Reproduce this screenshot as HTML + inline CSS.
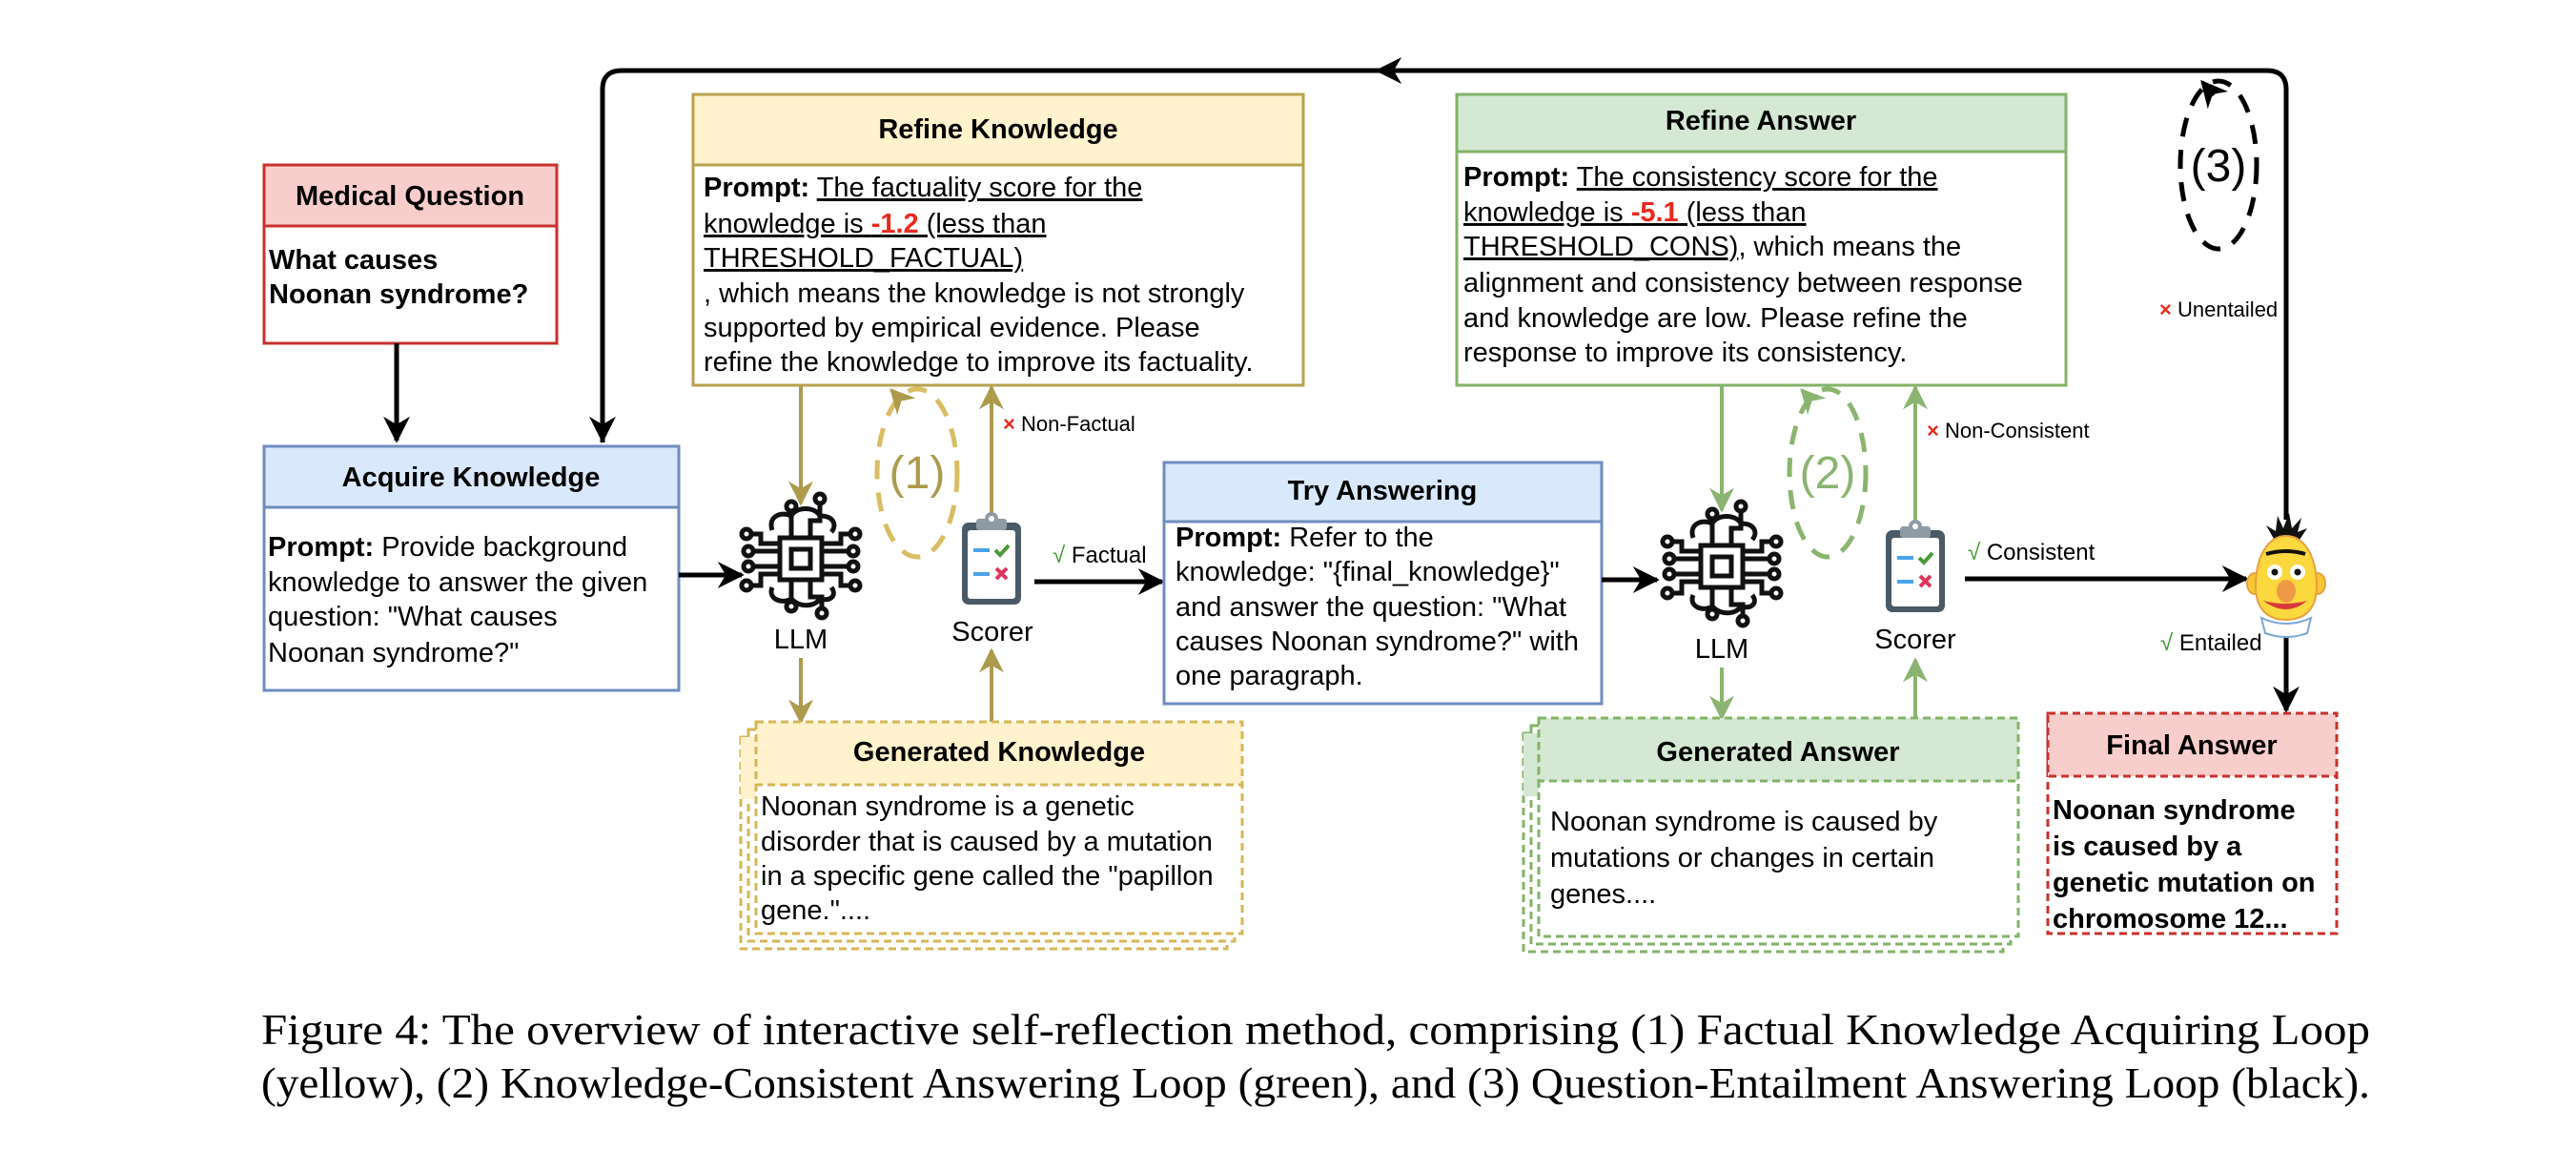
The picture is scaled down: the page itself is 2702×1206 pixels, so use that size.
<!DOCTYPE html>
<html><head><meta charset="utf-8"><style>
html,body{margin:0;padding:0;background:#fff;}
svg{display:block;}
.b{font-weight:bold;}
</style></head><body>
<svg width="2702" height="1206" viewBox="0 0 2702 1206" xmlns="http://www.w3.org/2000/svg" font-family="'Liberation Sans', Arial, sans-serif">
<defs>
<marker id="ay" viewBox="0 0 10 10" refX="9" refY="5" markerWidth="26" markerHeight="26" orient="auto" markerUnits="userSpaceOnUse"><path d="M0,0 L10,5 L0,10 L3,5z" fill="#ad9a4c"/></marker>
<marker id="ag" viewBox="0 0 10 10" refX="9" refY="5" markerWidth="26" markerHeight="26" orient="auto" markerUnits="userSpaceOnUse"><path d="M0,0 L10,5 L0,10 L3,5z" fill="#8ab46f"/></marker>
<marker id="ab" viewBox="0 0 10 10" refX="9" refY="5" markerWidth="28" markerHeight="28" orient="auto" markerUnits="userSpaceOnUse"><path d="M0,0 L10,5 L0,10 L3,5z" fill="#000"/></marker>
<g id="llm" fill="none" stroke="#111" stroke-width="5">
<rect x="-22" y="-22" width="44" height="44"/><rect x="-10" y="-10" width="20" height="20"/>
<path d="M-22,-8H-50M-22,8H-50M22,-8H50M22,8H50M-22,-16H-42V-26H-52M22,-16H42V-26H52M-22,16H-42V28H-52M22,16H42V28H52M-10,-22V-50M10,-22V-40H20V-58M-10,22V45M10,22V40H22V52"/>
<path d="M-30,-30C-35,-45 -20,-50 -10,-45C-5,-55 15,-55 20,-45C35,-45 38,-35 32,-28M-30,30C-35,42 -20,48 -10,42C0,52 15,50 20,42C32,45 38,38 32,30"/>
<circle cx="-55" cy="-8" r="5"/><circle cx="-55" cy="8" r="5"/><circle cx="55" cy="-8" r="5"/><circle cx="55" cy="8" r="5"/>
<circle cx="-57" cy="-26" r="5"/><circle cx="57" cy="-26" r="5"/><circle cx="-57" cy="28" r="5"/><circle cx="57" cy="28" r="5"/>
<circle cx="-10" cy="-55" r="5"/><circle cx="20" cy="-63" r="5"/><circle cx="-10" cy="50" r="5"/><circle cx="22" cy="57" r="5"/>
</g>
<g id="scorer">
<rect x="-31" y="-42" width="62" height="86" rx="7" fill="#4a5a66"/>
<rect x="-25" y="-34" width="50" height="72" rx="3" fill="#fff"/>
<rect x="-16" y="-46" width="32" height="12" rx="3" fill="#8e9ba4"/>
<circle cx="0" cy="-46" r="7" fill="#8e9ba4"/><circle cx="0" cy="-46" r="3" fill="#fff"/>
<rect x="-19" y="-15" width="17" height="4" fill="#4aa3e8"/><rect x="-19" y="10" width="17" height="4" fill="#4aa3e8"/>
<path d="M4,-13l5,5l9,-10" fill="none" stroke="#4a9a3a" stroke-width="4"/>
<path d="M5,6l11,11M16,6l-11,11" stroke="#e0335a" stroke-width="4"/>
</g>
</defs>

<!-- top loop -->
<path d="M632,464 V94 Q632,74 652,74 H2378 Q2398,74 2398,94 V545" fill="none" stroke="#000" stroke-width="5"/>
<path d="M632,430 V462" stroke="#000" stroke-width="5" marker-end="url(#ab)"/>
<path d="M1470,74 H1445" stroke="#000" stroke-width="5" marker-end="url(#ab)"/>
<path d="M2398,668 V745" stroke="#000" stroke-width="5" marker-end="url(#ab)"/>

<!-- Medical Question -->
<rect x="277" y="173" width="307" height="187" fill="#fff" stroke="#c9302c" stroke-width="3"/>
<rect x="277" y="173" width="307" height="64" fill="#f8cecc" stroke="#c9302c" stroke-width="3"/>
<text x="430" y="215" font-size="29" class="b" text-anchor="middle">Medical Question</text>
<text x="282" y="282" font-size="29" class="b">What causes</text>
<text x="282" y="318" font-size="29" class="b">Noonan syndrome?</text>
<path d="M416,360 V462" stroke="#000" stroke-width="5" marker-end="url(#ab)"/>

<!-- Acquire Knowledge -->
<rect x="277" y="468" width="435" height="256" fill="#fff" stroke="#6c8ebf" stroke-width="3"/>
<rect x="277" y="468" width="435" height="64" fill="#dae8fc" stroke="#6c8ebf" stroke-width="3"/>
<text x="494" y="510" font-size="29" class="b" text-anchor="middle">Acquire Knowledge</text>
<text x="281" y="583" font-size="29"><tspan class="b">Prompt:</tspan> Provide background</text>
<text x="281" y="620" font-size="29">knowledge to answer the given</text>
<text x="281" y="656" font-size="29">question: "What causes</text>
<text x="281" y="694" font-size="29">Noonan syndrome?"</text>
<path d="M712,603 H778" stroke="#000" stroke-width="5" marker-end="url(#ab)"/>

<!-- Refine Knowledge -->
<rect x="727" y="99" width="640" height="305" fill="#fff" stroke="#b9a24e" stroke-width="3"/>
<rect x="727" y="99" width="640" height="74" fill="#fff2cc" stroke="#b9a24e" stroke-width="3"/>
<text x="1047" y="145" font-size="29" class="b" text-anchor="middle">Refine Knowledge</text>
<text x="738" y="206" font-size="29"><tspan class="b">Prompt:</tspan> <tspan text-decoration="underline">The factuality score for the</tspan></text>
<text x="738" y="244" font-size="29" text-decoration="underline">knowledge is <tspan fill="#e8291c" class="b">-1.2</tspan> (less than</text>
<text x="738" y="280" font-size="29" text-decoration="underline">THRESHOLD_FACTUAL)</text>
<text x="738" y="317" font-size="29">, which means the knowledge is not strongly</text>
<text x="738" y="353" font-size="29">supported by empirical evidence. Please</text>
<text x="738" y="389" font-size="29">refine the knowledge to improve its factuality.</text>

<!-- loop 1 -->
<ellipse cx="962" cy="496" rx="42" ry="88" fill="none" stroke="#d9bd62" stroke-width="5" stroke-dasharray="20,14"/>
<path d="M945,420 L935,409" stroke="#d9bd62" stroke-width="4" marker-end="url(#ay)"/>
<text x="962" y="512" font-size="48" fill="#ad9a4c" text-anchor="middle">(1)</text>

<path d="M840,404 V528" stroke="#ad9a4c" stroke-width="4" marker-end="url(#ay)"/>
<path d="M1040,545 V406" stroke="#ad9a4c" stroke-width="4" marker-end="url(#ay)"/>
<path d="M840,690 V757" stroke="#ad9a4c" stroke-width="4" marker-end="url(#ay)"/>
<path d="M1040,757 V682" stroke="#ad9a4c" stroke-width="4" marker-end="url(#ay)"/>
<text x="1052" y="452" font-size="22"><tspan fill="#e8291c" class="b">×</tspan> Non-Factual</text>

<use href="#llm" x="840" y="586"/>
<text x="840" y="680" font-size="29" text-anchor="middle">LLM</text>
<use href="#scorer" x="1040" y="590"/>
<text x="1041" y="672" font-size="29" text-anchor="middle">Scorer</text>

<text x="1104" y="590" font-size="24"><tspan fill="#3a9a2a">√</tspan> Factual</text>
<path d="M1085,610 H1219" stroke="#000" stroke-width="5" marker-end="url(#ab)"/>

<!-- Try Answering -->
<rect x="1221" y="485" width="459" height="253" fill="#fff" stroke="#6c8ebf" stroke-width="3"/>
<rect x="1221" y="485" width="459" height="62" fill="#dae8fc" stroke="#6c8ebf" stroke-width="3"/>
<text x="1450" y="524" font-size="29" class="b" text-anchor="middle">Try Answering</text>
<text x="1233" y="573" font-size="29"><tspan class="b">Prompt:</tspan> Refer to the</text>
<text x="1233" y="609" font-size="29">knowledge: "{final_knowledge}"</text>
<text x="1233" y="646" font-size="29">and answer the question: "What</text>
<text x="1233" y="682" font-size="29">causes Noonan syndrome?" with</text>
<text x="1233" y="718" font-size="29">one paragraph.</text>
<path d="M1680,608 H1738" stroke="#000" stroke-width="5" marker-end="url(#ab)"/>

<!-- Refine Answer -->
<rect x="1528" y="99" width="639" height="305" fill="#fff" stroke="#82b366" stroke-width="3"/>
<rect x="1528" y="99" width="639" height="60" fill="#d5e8d4" stroke="#82b366" stroke-width="3"/>
<text x="1847" y="136" font-size="29" class="b" text-anchor="middle">Refine Answer</text>
<text x="1535" y="195" font-size="29"><tspan class="b">Prompt:</tspan> <tspan text-decoration="underline">The consistency score for the</tspan></text>
<text x="1535" y="232" font-size="29" text-decoration="underline">knowledge is <tspan fill="#e8291c" class="b">-5.1</tspan> (less than</text>
<text x="1535" y="268" font-size="29"><tspan text-decoration="underline">THRESHOLD_CONS)</tspan>, which means the</text>
<text x="1535" y="306" font-size="29">alignment and consistency between response</text>
<text x="1535" y="343" font-size="29">and knowledge are low. Please refine the</text>
<text x="1535" y="379" font-size="29">response to improve its consistency.</text>

<!-- loop 2 -->
<ellipse cx="1917" cy="496" rx="40" ry="88" fill="none" stroke="#8ab46f" stroke-width="5" stroke-dasharray="20,14"/>
<path d="M1900,420 L1890,409" stroke="#8ab46f" stroke-width="4" marker-end="url(#ag)"/>
<text x="1917" y="512" font-size="48" fill="#8ab46f" text-anchor="middle">(2)</text>

<path d="M1806,404 V535" stroke="#8ab46f" stroke-width="4" marker-end="url(#ag)"/>
<path d="M2009,550 V406" stroke="#8ab46f" stroke-width="4" marker-end="url(#ag)"/>
<path d="M1806,700 V753" stroke="#8ab46f" stroke-width="4" marker-end="url(#ag)"/>
<path d="M2009,753 V692" stroke="#8ab46f" stroke-width="4" marker-end="url(#ag)"/>
<text x="2021" y="459" font-size="22"><tspan fill="#e8291c" class="b">×</tspan> Non-Consistent</text>

<use href="#llm" x="1806" y="594"/>
<text x="1806" y="690" font-size="29" text-anchor="middle">LLM</text>
<use href="#scorer" x="2009" y="598"/>
<text x="2009" y="680" font-size="29" text-anchor="middle">Scorer</text>

<text x="2064" y="587" font-size="24"><tspan fill="#3a9a2a">√</tspan> Consistent</text>
<path d="M2061,607 H2356" stroke="#000" stroke-width="5" marker-end="url(#ab)"/>
<text x="2266" y="682" font-size="24"><tspan fill="#3a9a2a">√</tspan> Entailed</text>
<text x="2265" y="332" font-size="22"><tspan fill="#e8291c" class="b">×</tspan> Unentailed</text>

<!-- loop 3 -->
<ellipse cx="2327" cy="173" rx="40" ry="88" fill="none" stroke="#000" stroke-width="5" stroke-dasharray="20,14"/>
<path d="M2322,100 L2310,86" stroke="#000" stroke-width="4" marker-end="url(#ab)"/>
<text x="2327" y="190" font-size="48" text-anchor="middle">(3)</text>

<!-- Bert -->
<g>
<path d="M2385,565 l-8,-14 l10,6 l2,-16 l6,13 l6,-16 l3,16 l10,-11 l-4,15 l10,-4 l-8,12z" fill="#111"/>
<ellipse cx="2365" cy="612" rx="8" ry="11" fill="#f5c733" stroke="#e8a040" stroke-width="2"/>
<ellipse cx="2431" cy="612" rx="8" ry="11" fill="#f5c733" stroke="#e8a040" stroke-width="2"/>
<path d="M2398,562 C2378,562 2366,585 2366,615 C2366,640 2380,650 2398,650 C2416,650 2430,640 2430,615 C2430,585 2418,562 2398,562z" fill="#fbd83e" stroke="#e8a040" stroke-width="2"/>
<path d="M2377,581 Q2398,575 2418,581" stroke="#111" stroke-width="4" fill="none"/>
<circle cx="2386" cy="600" r="8" fill="#fff"/><circle cx="2410" cy="600" r="8" fill="#fff"/>
<circle cx="2386" cy="600" r="3.5" fill="#111"/><circle cx="2410" cy="600" r="3.5" fill="#111"/>
<ellipse cx="2398" cy="620" rx="10" ry="12" fill="#ee9a45"/>
<path d="M2374,630 Q2398,648 2420,630 Q2398,636 2374,630z" fill="#d63a3a"/>
<path d="M2372,648 Q2398,660 2424,648 L2420,664 Q2398,672 2376,664z" fill="#fff" stroke="#7aa6d8" stroke-width="2"/>
</g>

<!-- Generated Knowledge stack -->
<g fill="#fff" stroke="#d6b656" stroke-width="3" stroke-dasharray="8,5">
<rect x="777" y="773" width="510" height="222"/>
<rect x="785" y="765" width="510" height="222"/>
</g>
<rect x="777" y="773" width="16" height="65" fill="#fff2cc"/>
<rect x="793" y="757" width="510" height="222" fill="#fff" stroke="#d6b656" stroke-width="3" stroke-dasharray="8,5"/>
<rect x="793" y="757" width="510" height="66" fill="#fff2cc" stroke="#d6b656" stroke-width="3" stroke-dasharray="8,5"/>
<text x="1048" y="798" font-size="29" class="b" text-anchor="middle">Generated Knowledge</text>
<text x="798" y="855" font-size="29">Noonan syndrome is a genetic</text>
<text x="798" y="892" font-size="29">disorder that is caused by a mutation</text>
<text x="798" y="928" font-size="29">in a specific gene called the "papillon</text>
<text x="798" y="964" font-size="29">gene."....</text>

<!-- Generated Answer stack -->
<g fill="#fff" stroke="#82b366" stroke-width="3" stroke-dasharray="8,5">
<rect x="1598" y="769" width="503" height="229"/>
<rect x="1606" y="761" width="503" height="229"/>
</g>
<rect x="1598" y="769" width="16" height="66" fill="#d5e8d4"/>
<rect x="1614" y="753" width="503" height="229" fill="#fff" stroke="#82b366" stroke-width="3" stroke-dasharray="8,5"/>
<rect x="1614" y="753" width="503" height="66" fill="#d5e8d4" stroke="#82b366" stroke-width="3" stroke-dasharray="8,5"/>
<text x="1865" y="798" font-size="29" class="b" text-anchor="middle">Generated Answer</text>
<text x="1626" y="871" font-size="29">Noonan syndrome is caused by</text>
<text x="1626" y="909" font-size="29">mutations or changes in certain</text>
<text x="1626" y="947" font-size="29">genes....</text>

<!-- Final Answer -->
<rect x="2148" y="748" width="303" height="231" fill="#fff" stroke="#c9302c" stroke-width="3" stroke-dasharray="8,5"/>
<rect x="2148" y="748" width="303" height="66" fill="#f8cecc" stroke="#c9302c" stroke-width="3" stroke-dasharray="8,5"/>
<text x="2299" y="791" font-size="29" class="b" text-anchor="middle">Final Answer</text>
<text x="2153" y="859" font-size="29" class="b">Noonan syndrome</text>
<text x="2153" y="897" font-size="29" class="b">is caused by a</text>
<text x="2153" y="935" font-size="29" class="b">genetic mutation on</text>
<text x="2153" y="973" font-size="29" class="b">chromosome 12...</text>

<!-- caption -->
<g font-family="'Liberation Serif', 'Times New Roman', serif" font-size="46">
<text x="274" y="1095" textLength="2212" lengthAdjust="spacingAndGlyphs">Figure 4: The overview of interactive self-reflection method, comprising (1) Factual Knowledge Acquiring Loop</text>
<text x="274" y="1151" textLength="2212" lengthAdjust="spacingAndGlyphs">(yellow), (2) Knowledge-Consistent Answering Loop (green), and (3) Question-Entailment Answering Loop (black).</text>
</g>
</svg>
</body></html>
